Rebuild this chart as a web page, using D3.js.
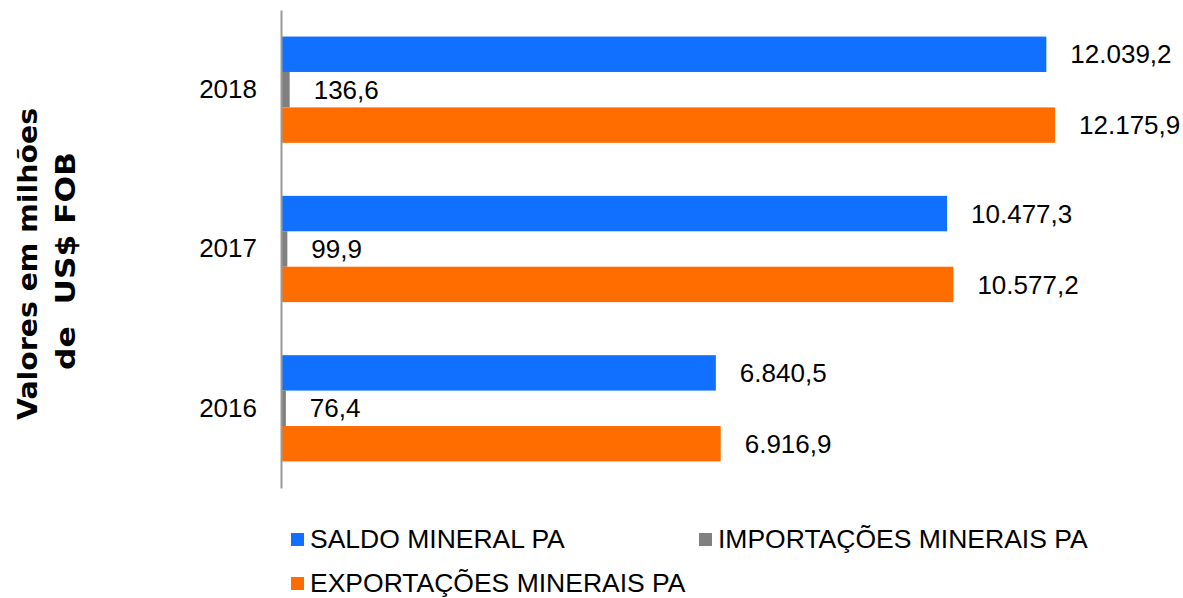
<!DOCTYPE html>
<html><head><meta charset="utf-8">
<script src="https://cdn.jsdelivr.net/npm/d3@7/dist/d3.min.js"></script>
<style>body{margin:0;background:#fff}svg{display:block}</style>
</head><body>
<svg id="c" width="1183" height="598"></svg>
<script>
const years = ["2018", "2017", "2016"];
const seriesNames = ["SALDO MINERAL PA", "IMPORTAÇÕES MINERAIS PA", "EXPORTAÇÕES MINERAIS PA"];
const saldo = [12039.2, 10477.3, 6840.5];
const importacoes = [136.6, 99.9, 76.4];
const exportacoes = [12175.9, 10577.2, 6916.9];
const colors = ["#1170FF", "#808080", "#FF6D00"];

const seriesValues = [saldo, importacoes, exportacoes];
const svg = d3.select("#c");
const font = "'Liberation Sans', Arial, sans-serif";
const loc = d3.formatLocale({decimal: ",", thousands: ".", grouping: [3], currency: ["", ""]});
const fmt = loc.format(",.1f");

const x = d3.scaleLinear().domain([0, 14000]).range([281, 1171]);
const y0 = d3.scaleBand().domain(years).range([10, 488]).paddingInner(0.333).paddingOuter(0.1667);
const y1 = d3.scaleBand().domain(seriesNames).range([0, y0.bandwidth()]);

const rows = [];
years.forEach((yr, i) => seriesNames.forEach((s, j) => rows.push({yr, s, j, v: seriesValues[j][i]})));

svg.selectAll("rect.bar").data(rows).enter().append("rect")
  .attr("class", "bar")
  .attr("x", x(0))
  .attr("y", d => y0(d.yr) + y1(d.s))
  .attr("width", d => x(d.v) - x(0))
  .attr("height", y1.bandwidth())
  .attr("fill", d => colors[d.j]);

svg.selectAll("text.val").data(rows).enter().append("text")
  .attr("class", "val")
  .attr("x", d => x(d.v) + 24)
  .attr("y", d => y0(d.yr) + y1(d.s) + y1.bandwidth() / 2)
  .attr("dy", "0.35em")
  .attr("font-family", font).attr("font-size", 26).attr("fill", "#000")
  .text(d => fmt(d.v));

// axis
const axis = d3.axisLeft(y0).tickSize(0).tickPadding(24);
const g = svg.append("g").attr("transform", `translate(${x(0)},0)`).call(axis);
g.select(".domain").attr("stroke", "#999").attr("stroke-width", 2);
g.selectAll("text").attr("font-family", font).attr("font-size", 26).attr("fill", "#000");

// y title
const tf = "'DejaVu Sans', sans-serif";
svg.append("text").attr("transform", "translate(37,264) rotate(-90)")
  .attr("text-anchor", "middle").attr("font-family", tf).attr("font-weight", "bold")
  .attr("font-size", 27).attr("fill", "#000")
  .attr("textLength", 312).attr("lengthAdjust", "spacingAndGlyphs")
  .text("Valores em milhões");
svg.append("text").attr("transform", "translate(75,261) rotate(-90)")
  .attr("text-anchor", "middle").attr("font-family", tf).attr("font-weight", "bold")
  .attr("font-size", 27).attr("fill", "#000")
  .attr("textLength", 218).attr("lengthAdjust", "spacingAndGlyphs")
  .style("white-space", "pre")
  .text("de  US$ FOB");

// legend
const legPos = [[291, 548], [699, 548], [291, 592]];
const lg = svg.selectAll("g.leg").data(seriesNames).enter().append("g")
  .attr("class", "leg")
  .attr("transform", (d, i) => `translate(${legPos[i][0]},${legPos[i][1]})`);
lg.append("rect").attr("x", 0).attr("y", -15).attr("width", 13).attr("height", 13)
  .attr("fill", (d, i) => colors[i]);
lg.append("text").attr("x", 19).attr("y", 0)
  .attr("font-family", font).attr("font-size", 26.5).attr("fill", "#000")
  .text(d => d);
</script>
</body></html>
